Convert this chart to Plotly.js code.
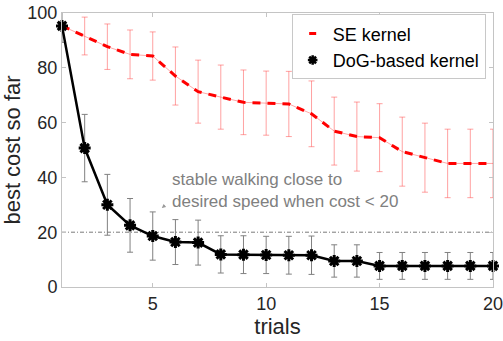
<!DOCTYPE html>
<html>
<head>
<meta charset="utf-8">
<script src="https://cdn.plot.ly/plotly-3.0.1.min.js"></script>
<style>html,body{margin:0;padding:0;background:#fff;}#chart{width:503px;height:341px;}</style>
</head>
<body>
<div id="chart"></div>
<script>
const trials = [1,2,3,4,5,6,7,8,9,10,11,12,13,14,15,16,17,18,19,20];
const seMean = [95.3,91.6,87.7,84.9,84.3,77.0,71.3,69.3,67.4,67.1,66.8,63.2,56.9,54.9,54.5,49.4,47.2,45.1,45.1,45.1];
const seErr  = [0,6.9,8.3,8.9,8.8,10.6,11.5,11.7,11.8,11.7,11.9,12.0,12.4,12.6,12.4,12.6,12.6,12.5,12.5,12.5];
const dogMean = [95.3,50.7,30.0,22.5,18.6,16.4,16.2,11.9,11.8,11.7,11.6,11.6,9.5,9.5,7.7,7.7,7.7,7.7,7.7,7.7];
const dogErr  = [6.0,12.3,11.1,9.8,8.8,8.2,8.2,6.8,6.9,6.8,6.9,7.0,5.9,5.9,4.9,4.9,4.9,4.9,4.9,4.9];
const threshold = 20;
const xTicks = [5,10,15,20];
const yTicks = [0,20,40,60,80,100];
const seName = 'SE kernel';
const dogName = 'DoG-based kernel';
const noteText = 'stable walking close to<br>desired speed when cost < 20';

const font = 'Liberation Sans, Arial, Helvetica, sans-serif';
const axisGrey = '#c4c4c4';

const traces = [
  { // threshold line
    x: [trials[0], trials[trials.length-1]], y: [threshold, threshold],
    mode: 'lines', line: {color: '#7a7a7a', width: 1, dash: '4px,2px,1px,2px'},
    showlegend: false, hoverinfo: 'skip'
  },
  { // SE error bars + thin line
    x: trials, y: seMean, mode: 'lines',
    line: {color: 'rgba(255,60,60,0.45)', width: 1},
    error_y: {type: 'data', array: seErr, visible: true, color: 'rgba(255,70,70,0.5)', thickness: 1, width: 3},
    showlegend: false, hoverinfo: 'skip'
  },
  { // SE thick dashed
    x: trials, y: seMean, mode: 'lines',
    line: {color: '#ff0000', width: 3, dash: '8px,7px'},
    showlegend: false
  },
  { // DoG line + error bars
    x: trials, y: dogMean, mode: 'lines',
    line: {color: '#000000', width: 2.5},
    error_y: {type: 'data', array: dogErr, visible: true, color: '#808080', thickness: 1, width: 3},
    showlegend: false
  },
  { // DoG markers
    x: trials, y: dogMean, mode: 'markers', cliponaxis: false,
    marker: {symbol: 'asterisk-open', size: 10, color: '#000', line: {color: '#000', width: 3}},
    showlegend: false
  },
  { // legend: SE
    x: [null], y: [null], mode: 'markers', name: seName,
    marker: {symbol: 'line-ew-open', size: 5, color: '#ff0000', line: {color: '#ff0000', width: 3}}
  },
  { // legend: DoG
    x: [null], y: [null], mode: 'markers', name: dogName,
    marker: {symbol: 'asterisk-open', size: 8, color: '#000', line: {color: '#000', width: 2.5}}
  }
];

const axisCommon = {
  showgrid: false, zeroline: false, showline: true, linecolor: axisGrey, linewidth: 1,
  mirror: 'ticks', ticks: 'inside', ticklen: 4, tickcolor: axisGrey, tickwidth: 1,
  ticklabeloverflow: 'allow',
  tickfont: {family: font, size: 18, color: '#262626'}
};

const layout = {
  width: 503, height: 341,
  margin: {l: 62, r: 10, t: 13, b: 54},
  paper_bgcolor: '#fff', plot_bgcolor: '#fff',
  font: {family: font, color: '#262626'},
  xaxis: Object.assign({}, axisCommon, {
    range: [1, 20], tickvals: xTicks, ticktext: xTicks.map(String),
    title: {text: 'trials', font: {family: font, size: 22, color: '#262626'}, standoff: 4}
  }),
  yaxis: Object.assign({}, axisCommon, {
    range: [0, 100], tickvals: yTicks, ticktext: yTicks.map(String),
    title: {text: 'best cost so far', font: {family: font, size: 22, color: '#262626'}, standoff: 2}
  }),
  legend: {
    x: 0.983, y: 0.995, xanchor: 'right', yanchor: 'top',
    bgcolor: '#fff', bordercolor: '#c8c8c8', borderwidth: 1,
    font: {family: font, size: 18, color: '#000'},
    tracegroupgap: 0, itemwidth: 30
  },
  annotations: [
    {
      x: 5.75, y: 35.2, xref: 'x', yref: 'y', xanchor: 'left', yanchor: 'middle',
      text: noteText, showarrow: false, align: 'left',
      font: {family: font, size: 17, color: '#808080'}
    },
    {
      x: 5.4, y: 28.8, xref: 'x', yref: 'y', text: ' ', showarrow: true,
      ax: 6, ay: -5, arrowhead: 2, arrowsize: 0.8, arrowwidth: 1, arrowcolor: '#9a9a9a', standoff: 0
    }
  ],
  showlegend: true
};

Plotly.newPlot('chart', traces, layout, {staticPlot: true, displayModeBar: false});
</script>
</body>
</html>
